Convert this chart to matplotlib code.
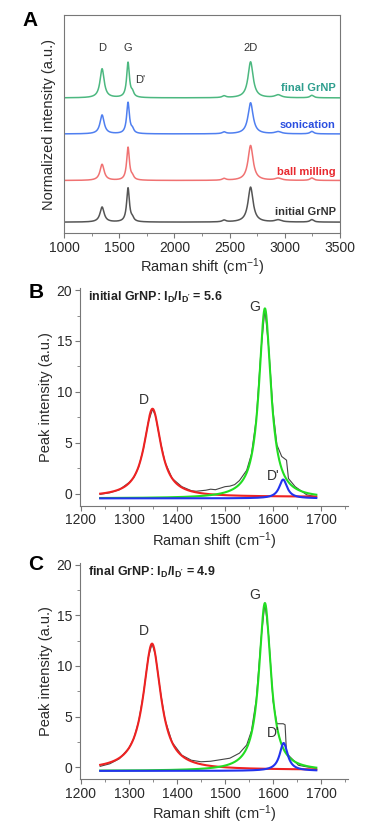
import numpy as np
import matplotlib
matplotlib.use('Agg')
import matplotlib.pyplot as plt
from matplotlib.ticker import MultipleLocator

plt.rcParams['font.family'] = ['Liberation Sans', 'DejaVu Sans']
plt.rcParams['mathtext.default'] = 'regular'

# ---------------- Panel A data (peak parameters) -------------
spectra = ['initial GrNP', 'ball milling', 'sonication', 'final GrNP']
offsets = [0.31, 1.50, 2.83, 3.86]
peak_pos = [1345, 1580, 1620, 2450, 2690, 2940, 3245]
peak_fwhm = [45, 30, 30, 40, 55, 70, 40]
h_initial = [0.43, 0.97, 0.08, 0.05, 1.00, 0.06, 0.07]
h_ball = [0.46, 0.94, 0.08, 0.05, 1.00, 0.06, 0.07]
h_sonic = [0.54, 0.89, 0.10, 0.05, 0.89, 0.06, 0.07]
h_final = [0.83, 1.00, 0.12, 0.05, 1.03, 0.08, 0.07]
heights_A = [h_initial, h_ball, h_sonic, h_final]

# ---------------- Panel B data ----------------
comp_names = ['D', 'G', "D'"]
B_center = [1349, 1583, 1621]
B_amp = [8.65, 18.65, 1.85]
B_hw = [21, 15, 10]
B_base = [-0.3, -0.45, -0.45]
B_x = [1240, 1260, 1280, 1300, 1310, 1320, 1330, 1340, 1349, 1355, 1365, 1375, 1390,
       1410, 1420, 1430, 1440, 1450, 1460, 1470, 1480, 1490, 1500, 1510, 1520, 1530,
       1545, 1555, 1565, 1575, 1583, 1591, 1600, 1608, 1618, 1628, 1632, 1646, 1670, 1690]
B_y = [-0.05, 0.1, 0.4, 1.1, 1.6, 2.6, 4.4, 7.0, 8.3, 7.7, 5.2, 3.1, 1.5,
       0.7, 0.5, 0.3, 0.25, 0.3, 0.35, 0.45, 0.4, 0.55, 0.7, 0.75, 0.9, 1.3,
       2.3, 3.9, 7.35, 14.2, 18.1, 14.3, 8.1, 4.8, 3.66, 3.3, 1.5, 0.7, -0.1, -0.3]

# ---------------- Panel C data ----------------
C_center = [1348, 1583, 1622]
C_amp = [12.45, 16.55, 2.75]
C_hw = [22, 15, 10]
C_base = [-0.25, -0.35, -0.35]
C_x = [1240, 1260, 1280, 1300, 1310, 1320, 1330, 1340, 1348, 1355, 1365, 1375, 1390,
       1410, 1430, 1450, 1470, 1490, 1510, 1530, 1545, 1555, 1565, 1575, 1583, 1591,
       1600, 1608, 1621, 1625, 1628, 1635, 1653, 1670, 1690]
C_y = [0.1, 0.35, 0.85, 1.9, 2.85, 4.5, 7.2, 10.8, 12.2, 11.1, 7.6, 4.7, 2.45,
       1.2, 0.7, 0.55, 0.6, 0.75, 0.9, 1.4, 2.2, 3.6, 6.7, 12.7, 16.2, 12.9,
       6.5, 4.3, 4.3, 4.2, 1.4, 1.05, 0.2, 0.05, -0.1]

colors_A = ['#555555', '#f07272', '#4f7ff0', '#4cb880']
label_colors_A = ['#333333', '#e8282e', '#2b4fe0', '#2e9e8e']
label_y_A = [0.60, 1.74, 3.09, 4.14]
fit_colors = ['#ee2222', '#22dd22', '#2233ee']


def lorentz(x, c, a, hw):
    return a / (1.0 + ((x - c) / hw) ** 2)


W, H = 392, 832
fig = plt.figure(figsize=(W / 100, H / 100), dpi=100)
tick_col = '#2a2a2a'
spine_col = '#777777'
TICK_FS = 10
LAB_FS = 10.5


def style(ax, box):
    for s in ['left', 'bottom', 'top', 'right']:
        ax.spines[s].set_color(spine_col)
        ax.spines[s].set_linewidth(0.8)
    if not box:
        ax.spines['top'].set_visible(False)
        ax.spines['right'].set_visible(False)
    ax.tick_params(which='both', direction='out', colors=spine_col, labelcolor=tick_col,
                   labelsize=TICK_FS, pad=2)
    ax.tick_params(which='major', length=3.5, width=0.8)
    ax.tick_params(which='minor', length=2, width=0.6)


def axpos(l, t, r, b):
    return [l / W, 1 - b / H, (r - l) / W, (b - t) / H]


# ---------------- Panel A ----------------
axA = fig.add_axes(axpos(64, 15, 340, 233))
xA = np.linspace(1000, 3500, 2500)
for name, off, hs, col in zip(spectra, offsets, heights_A, colors_A):
    y = np.full_like(xA, off)
    for p, w, h in zip(peak_pos, peak_fwhm, hs):
        y += lorentz(xA, p, h, w / 2)
    axA.plot(xA, y, color=col, lw=1.1)
for name, ly, lc in zip(spectra, label_y_A, label_colors_A):
    axA.text(3460, ly, name, color=lc, fontsize=8, fontweight='bold', ha='right', va='center')
axA.text(1345, 5.29, 'D', fontsize=8, color='#333333', ha='center', va='center')
axA.text(1580, 5.29, 'G', fontsize=8, color='#333333', ha='center', va='center')
axA.text(2690, 5.29, '2D', fontsize=8, color='#333333', ha='center', va='center')
axA.text(1688, 4.37, "D'", fontsize=8, color='#333333', ha='center', va='center')
axA.set_xlim(1000, 3500)
axA.set_ylim(0, 218 / 35)
axA.set_yticks([])
axA.xaxis.set_major_locator(MultipleLocator(500))
axA.xaxis.set_minor_locator(MultipleLocator(250))
style(axA, True)
axA.set_xlabel('Raman shift (cm$^{-1}$)', fontsize=LAB_FS, color=tick_col, labelpad=1)
axA.set_ylabel('Normalized intensity (a.u.)', fontsize=LAB_FS, color=tick_col, labelpad=6)
fig.text(30 / W, 1 - 20 / H, 'A', fontsize=15, fontweight='bold', ha='center', va='center')


def fit_panel(ax, cx, amp, hw, base, dx, dy, title, lab_pos):
    ax.plot(dx, dy, color='#444444', lw=0.8, zorder=2)
    xf = np.linspace(1240, 1690, 900)
    for c, a, w, b, col in zip(cx, amp, hw, base, fit_colors):
        ax.plot(xf, b + lorentz(xf, c, a, w), color=col, lw=1.5, zorder=3)
    for name, (tx, ty) in zip(comp_names, lab_pos):
        ax.text(tx, ty, name, fontsize=10, color='#333333', ha='center', va='center', zorder=4)
    ax.set_xlim(1198, 1756)
    ax.set_ylim(-1.15, 20.2)
    ax.xaxis.set_major_locator(MultipleLocator(100))
    ax.xaxis.set_minor_locator(MultipleLocator(50))
    ax.yaxis.set_major_locator(MultipleLocator(5))
    ax.yaxis.set_minor_locator(MultipleLocator(2.5))
    style(ax, False)
    ax.set_xlabel('Raman shift (cm$^{-1}$)', fontsize=LAB_FS, color=tick_col, labelpad=2)
    ax.set_ylabel('Peak intensity (a.u.)', fontsize=LAB_FS, color=tick_col, labelpad=3)
    ax.text(0.03, 0.955, title, transform=ax.transAxes, fontsize=9, fontweight='bold',
            color='#222222', ha='left', va='center')


# ---------------- Panel B ----------------
axB = fig.add_axes(axpos(80, 288, 348, 505.5))
fit_panel(axB, B_center, B_amp, B_hw, B_base, B_x, B_y,
          "initial GrNP: I$_D$/I$_{D'}$ = 5.6",
          [(1330, 9.2), (1562, 18.3), (1601, 1.7)])
fig.text(36 / W, 1 - 293 / H, 'B', fontsize=15, fontweight='bold', ha='center', va='center')

# ---------------- Panel C ----------------
axC = fig.add_axes(axpos(80, 562.5, 348, 779))
fit_panel(axC, C_center, C_amp, C_hw, C_base, C_x, C_y,
          "final GrNP: I$_D$/I$_{D'}$ = 4.9",
          [(1330, 13.4), (1562, 17.0), (1601, 3.35)])
fig.text(36 / W, 1 - 565 / H, 'C', fontsize=15, fontweight='bold', ha='center', va='center')

fig.savefig('out.png', dpi=100)
